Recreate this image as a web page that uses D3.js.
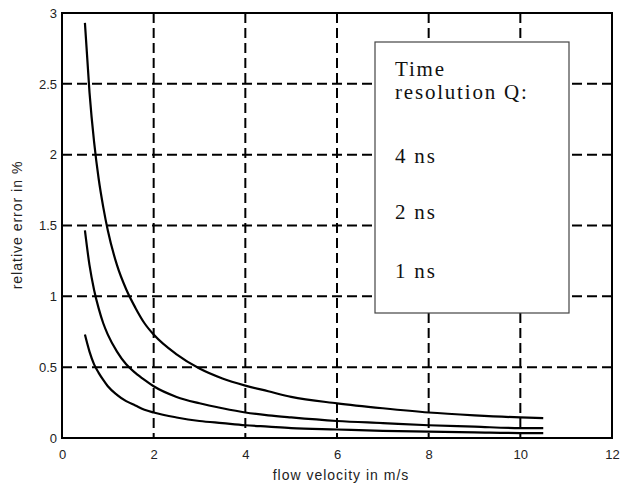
<!DOCTYPE html>
<html>
<head>
<meta charset="utf-8">
<script src="https://cdn.jsdelivr.net/npm/d3@7"></script>
<style>
  body { margin: 0; background: #fff; }
  svg { display: block; }
  .tick text { font-family: "Liberation Sans", Arial, sans-serif; font-size: 13px; fill: #222; }
</style>
</head>
<body>
<div id="chart"></div>
<script>
// flow velocity (m/s) sampled along the curves
const velocity = [0.5, 0.6, 0.7, 0.8, 0.9, 1, 1.2, 1.4, 1.6, 1.8, 2, 2.5, 3, 3.5, 4, 4.5, 5, 6, 7, 8, 9, 10, 10.5];
// relative error in %
const err4ns = [2.93, 2.44, 2.09, 1.83, 1.63, 1.465, 1.22, 1.05, 0.92, 0.81, 0.73, 0.59, 0.49, 0.42, 0.37, 0.33, 0.29, 0.245, 0.21, 0.18, 0.16, 0.145, 0.14];
const err2ns = [1.465, 1.22, 1.045, 0.915, 0.81, 0.73, 0.61, 0.52, 0.46, 0.41, 0.365, 0.29, 0.245, 0.21, 0.18, 0.16, 0.145, 0.12, 0.105, 0.09, 0.08, 0.07, 0.07];
const err1ns = [0.73, 0.61, 0.52, 0.46, 0.41, 0.365, 0.305, 0.26, 0.23, 0.2, 0.18, 0.145, 0.12, 0.105, 0.09, 0.08, 0.07, 0.06, 0.05, 0.045, 0.04, 0.035, 0.035];
const xTicks = [0, 2, 4, 6, 8, 10, 12];
const yTicks = [0, 0.5, 1, 1.5, 2, 2.5, 3];
const legendLines = ["Time", "resolution Q:", "4 ns", "2 ns", "1 ns"];

const W = 623, H = 489;
const m = { left: 62, right: 612, top: 13, bottom: 438 };

const svg = d3.select("#chart").append("svg")
    .attr("width", W)
    .attr("height", H);

const x = d3.scaleLinear().domain([0, 12]).range([m.left, m.right]);
const y = d3.scaleLinear().domain([0, 3]).range([m.bottom, m.top]);

// grid (dashed)
const grid = svg.append("g")
    .attr("stroke", "#000")
    .attr("stroke-width", 2)
    .attr("stroke-dasharray", "10,5");

grid.selectAll(".vg").data(xTicks.filter(d => d > 0 && d < 12)).enter()
    .append("line")
    .attr("x1", d => x(d)).attr("x2", d => x(d))
    .attr("y1", m.top).attr("y2", m.bottom);

grid.selectAll(".hg").data(yTicks.filter(d => d > 0 && d < 3)).enter()
    .append("line")
    .attr("x1", m.left).attr("x2", m.right)
    .attr("y1", d => y(d)).attr("y2", d => y(d));

// axes, labels only (frame drawn below)
const xAxis = svg.append("g")
    .attr("transform", `translate(0,${m.bottom})`)
    .call(d3.axisBottom(x).tickValues(xTicks).tickSize(0).tickPadding(12).tickFormat(d3.format("d")));
xAxis.select(".domain").remove();

const yAxis = svg.append("g")
    .attr("transform", `translate(${m.left},0)`)
    .call(d3.axisLeft(y).tickValues(yTicks).tickSize(0).tickPadding(5).tickFormat(d => String(d)));
yAxis.select(".domain").remove();

// curves
const series = [err4ns, err2ns, err1ns];
const line = d3.line()
    .x((d, i) => x(velocity[i]))
    .y(d => y(d))
    .curve(d3.curveMonotoneX);

svg.append("g").selectAll("path").data(series).enter()
    .append("path")
    .attr("d", d => line(d))
    .attr("fill", "none")
    .attr("stroke", "#000")
    .attr("stroke-width", 2.2);

// legend box
const lg = svg.append("g");
lg.append("rect")
    .attr("x", 375).attr("y", 42)
    .attr("width", 194).attr("height", 271)
    .attr("fill", "#fff")
    .attr("stroke", "#444")
    .attr("stroke-width", 1.2);

const legendY = [76, 99, 163, 219, 278];
lg.selectAll("text").data(legendLines).enter()
    .append("text")
    .attr("x", 395)
    .attr("y", (d, i) => legendY[i])
    .attr("font-family", "'Liberation Serif', 'Times New Roman', serif")
    .attr("font-size", 21)
    .attr("letter-spacing", 1.8)
    .attr("fill", "#111")
    .text(d => d);

// frame
svg.append("rect")
    .attr("x", m.left).attr("y", m.top)
    .attr("width", m.right - m.left).attr("height", m.bottom - m.top)
    .attr("fill", "none")
    .attr("stroke", "#000")
    .attr("stroke-width", 2);

// axis titles
svg.append("text")
    .attr("x", 341).attr("y", 480)
    .attr("text-anchor", "middle")
    .attr("font-family", "'Liberation Sans', Arial, sans-serif")
    .attr("font-size", 14)
    .attr("letter-spacing", 1)
    .attr("fill", "#222")
    .text("flow velocity in m/s");

svg.append("text")
    .attr("transform", "translate(22,225) rotate(-90)")
    .attr("text-anchor", "middle")
    .attr("font-family", "'Liberation Sans', Arial, sans-serif")
    .attr("font-size", 14)
    .attr("letter-spacing", 1)
    .attr("fill", "#222")
    .text("relative error in %");
</script>
</body>
</html>
